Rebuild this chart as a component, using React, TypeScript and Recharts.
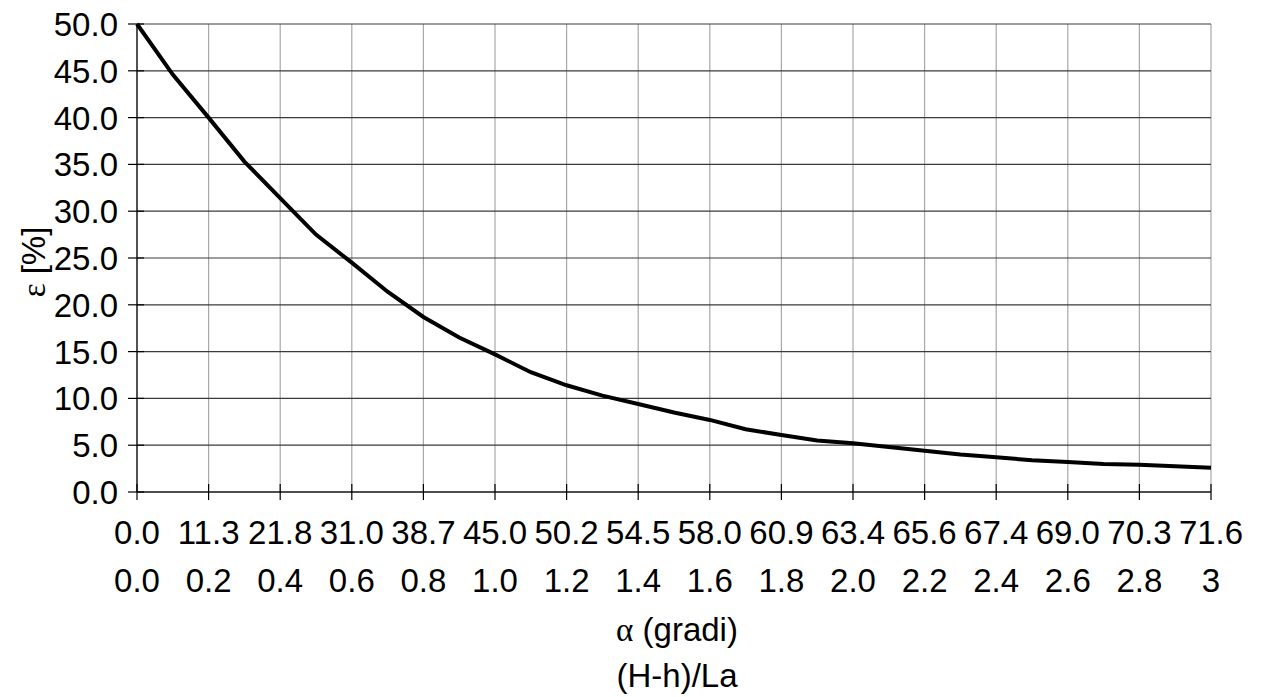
import { LineChart, Line, XAxis, YAxis, CartesianGrid } from 'recharts';

const ratio = [
  0.0, 0.1, 0.2, 0.3, 0.4, 0.5, 0.6, 0.7, 0.8, 0.9, 1.0, 1.1, 1.2, 1.3, 1.4, 1.5,
  1.6, 1.7, 1.8, 1.9, 2.0, 2.1, 2.2, 2.3, 2.4, 2.5, 2.6, 2.7, 2.8, 2.9, 3.0,
];
const epsilon = [
  50.0, 44.6, 40.0, 35.3, 31.4, 27.5, 24.5, 21.4, 18.7, 16.5, 14.7, 12.8, 11.4, 10.3, 9.4, 8.5,
  7.7, 6.7, 6.1, 5.5, 5.2, 4.8, 4.4, 4.0, 3.7, 3.4, 3.2, 3.0, 2.9, 2.75, 2.6,
];

const xTicks = [0, 0.2, 0.4, 0.6, 0.8, 1.0, 1.2, 1.4, 1.6, 1.8, 2.0, 2.2, 2.4, 2.6, 2.8, 3.0];
const alphaLabels = [
  '0.0', '11.3', '21.8', '31.0', '38.7', '45.0', '50.2', '54.5',
  '58.0', '60.9', '63.4', '65.6', '67.4', '69.0', '70.3', '71.6',
];
const ratioLabels = [
  '0.0', '0.2', '0.4', '0.6', '0.8', '1.0', '1.2', '1.4',
  '1.6', '1.8', '2.0', '2.2', '2.4', '2.6', '2.8', '3',
];
const yTicks = [0, 5, 10, 15, 20, 25, 30, 35, 40, 45, 50];

const data = ratio.map((r, i) => ({ r, eps: epsilon[i] }));

const FONT = '"Liberation Sans", Arial, sans-serif';
const SERIF = '"Liberation Serif", "DejaVu Serif", serif';
const SIZE = 33;

function XTick(props: any) {
  const { x, y, payload } = props;
  const i = xTicks.findIndex((t) => Math.abs(t - payload.value) < 1e-6);
  return (
    <g>
      <line x1={x} x2={x} y1={y - 8} y2={y + 8} stroke="#000" strokeWidth={1.2} />
      <text x={x} y={y + 52} textAnchor="middle" fontFamily={FONT} fontSize={SIZE} fill="#000">
        {alphaLabels[i]}
      </text>
      <text x={x} y={y + 100} textAnchor="middle" fontFamily={FONT} fontSize={SIZE} fill="#000">
        {ratioLabels[i]}
      </text>
    </g>
  );
}

function YTick(props: any) {
  const { x, y, payload } = props;
  return (
    <g>
      <line x1={x - 9} x2={x + 7} y1={y} y2={y} stroke="#000" strokeWidth={1.2} />
      <text x={x - 19} y={y + 12} textAnchor="end" fontFamily={FONT} fontSize={SIZE} fill="#000">
        {Number(payload.value).toFixed(1)}
      </text>
    </g>
  );
}

function XTitle(props: any) {
  const { viewBox } = props;
  const cx = viewBox.x + viewBox.width / 2 + 3;
  const y = viewBox.y;
  return (
    <g fontFamily={FONT} fontSize={SIZE} fill="#000">
      <text x={cx} y={y + 149} textAnchor="middle">
        <tspan fontFamily={SERIF}>α</tspan>
        <tspan> (gradi)</tspan>
      </text>
      <text x={cx} y={y + 195} textAnchor="middle">
        (H-h)/La
      </text>
    </g>
  );
}

function YTitle(props: any) {
  const { viewBox } = props;
  const cy = viewBox.y + viewBox.height / 2 + 4;
  const cx = 45;
  return (
    <text
      x={cx}
      y={cy}
      transform={`rotate(-90 ${cx} ${cy})`}
      textAnchor="middle"
      fontFamily={FONT}
      fontSize={SIZE}
      fill="#000"
    >
      <tspan fontFamily={SERIF}>ε</tspan>
      <tspan> [%]</tspan>
    </text>
  );
}

export default function App() {
  return (
    <div style={{ position: 'absolute', left: 0, top: 0, background: '#fff' }}>
      <LineChart width={1264} height={697} data={data} margin={{ top: 24, right: 53, bottom: 0, left: 0 }}>
        <CartesianGrid horizontal={false} vertical stroke="#a8a8a8" strokeWidth={1.2} />
        <CartesianGrid horizontal vertical={false} stroke="#3a3a3a" strokeWidth={1.2} />
        <XAxis
          dataKey="r"
          type="number"
          domain={[0, 3]}
          ticks={xTicks}
          interval={0}
          height={205}
          tickSize={0}
          tickMargin={0}
          tickLine={false}
          axisLine={{ stroke: '#000', strokeWidth: 1.2 }}
          tick={<XTick />}
          label={{ content: <XTitle /> }}
        />
        <YAxis
          type="number"
          domain={[0, 50]}
          ticks={yTicks}
          interval={0}
          width={137}
          tickSize={0}
          tickMargin={0}
          tickLine={false}
          axisLine={{ stroke: '#000', strokeWidth: 1.2 }}
          tick={<YTick />}
          label={{ content: <YTitle /> }}
        />
        <Line
          dataKey="eps"
          type="linear"
          stroke="#000"
          strokeWidth={4}
          dot={false}
          isAnimationActive={false}
        />
      </LineChart>
    </div>
  );
}
